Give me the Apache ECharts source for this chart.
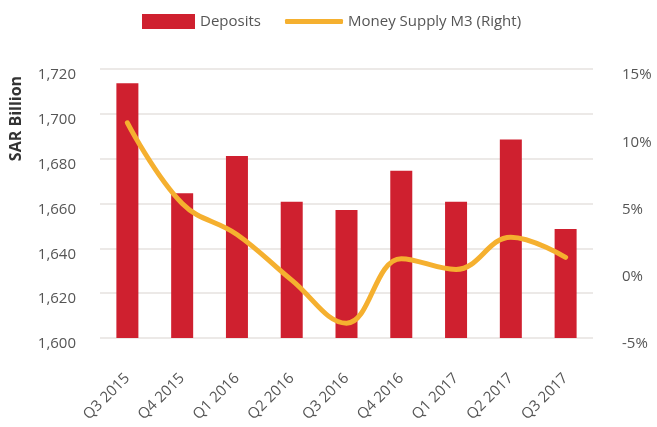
<!DOCTYPE html>
<html>
<head>
<meta charset="utf-8">
<script src="https://cdn.jsdelivr.net/npm/echarts@6/dist/echarts.min.js"></script>
<style>
  html, body { margin: 0; padding: 0; background: #fff; }
  #chart { width: 657px; height: 427px; }
</style>
</head>
<body>
<div id="chart"></div>
<script>
// quarters on the x axis
var quarters = ['Q3 2015', 'Q4 2015', 'Q1 2016', 'Q2 2016', 'Q3 2016', 'Q4 2016', 'Q1 2017', 'Q2 2017', 'Q3 2017'];
// deposits, SAR billion (left axis)
var deposits = [1713.6, 1664.6, 1681.2, 1660.8, 1657.1, 1674.6, 1660.8, 1688.6, 1648.6];
// money supply M3 growth, % (right axis)
var m3Growth = [11.0, 5.0, 2.7, -0.7, -3.9, 0.9, 0.1, 2.5, 1.0];

var txtColor = '#555555';
var fontFam = '"Open Sans", "Noto Sans", sans-serif';
var red = '#cf202f';
var orange = '#f5b02f';

var myChart = echarts.init(document.getElementById('chart'));

// two legends so the line icon can be thinner than the bar icon
var option = {
    animation: false,
    textStyle: { fontFamily: fontFam },
    legend: [
        {
            top: 9,
            left: 137,
            itemWidth: 53,
            itemHeight: 15,
            textStyle: { color: txtColor, fontSize: 15, fontFamily: fontFam },
            data: [{ name: 'Deposits', icon: 'rect' }]
        },
        {
            top: 9,
            left: 280,
            itemWidth: 58,
            itemHeight: 5,
            textStyle: { color: txtColor, fontSize: 15, fontFamily: fontFam },
            data: [{ name: 'Money Supply M3 (Right)', icon: 'roundRect', itemStyle: { color: orange } }]
        }
    ],
    grid: {
        left: 99,
        right: 64,
        top: 69,
        bottom: 89
    },
    xAxis: {
        type: 'category',
        data: quarters,
        axisLine: { show: false },
        axisTick: { show: false },
        axisLabel: {
            rotate: 45,
            margin: 38,
            color: txtColor,
            fontSize: 15,
            fontFamily: fontFam
        }
    },
    yAxis: [
        {
            type: 'value',
            name: 'SAR Billion',
            nameLocation: 'middle',
            nameRotate: 90,
            nameGap: 76,
            nameTextStyle: { color: '#333333', fontSize: 16, fontWeight: 'bold', fontFamily: fontFam, padding: [0, 0, 0, 170] },
            min: 1600,
            max: 1720,
            interval: 20,
            axisLine: { show: false },
            axisTick: { show: false },
            axisLabel: {
                margin: 24,
                color: txtColor,
                fontSize: 15,
                fontFamily: fontFam,
                verticalAlign: 'top',
                lineHeight: 12,
                formatter: function (v) { return v.toLocaleString('en-US'); }
            },
            splitLine: { show: true, lineStyle: { color: '#e6e2df', width: 1.5 } }
        },
        {
            type: 'value',
            min: -5,
            max: 15,
            interval: 5,
            axisLine: { show: false },
            axisTick: { show: false },
            axisLabel: {
                margin: 29,
                color: txtColor,
                fontSize: 15,
                fontFamily: fontFam,
                verticalAlign: 'top',
                lineHeight: 12,
                formatter: '{value}%'
            },
            splitLine: { show: false }
        }
    ],
    series: [
        {
            name: 'Deposits',
            type: 'bar',
            yAxisIndex: 0,
            barWidth: 22,
            itemStyle: { color: red },
            data: deposits
        },
        {
            name: 'Money Supply M3 (Right)',
            type: 'line',
            yAxisIndex: 1,
            smooth: 0.4,
            symbol: 'none',
            lineStyle: { color: orange, width: 5, cap: 'round' },
            itemStyle: { color: orange },
            data: m3Growth
        }
    ]
};
myChart.setOption(option);
</script>
</body>
</html>
